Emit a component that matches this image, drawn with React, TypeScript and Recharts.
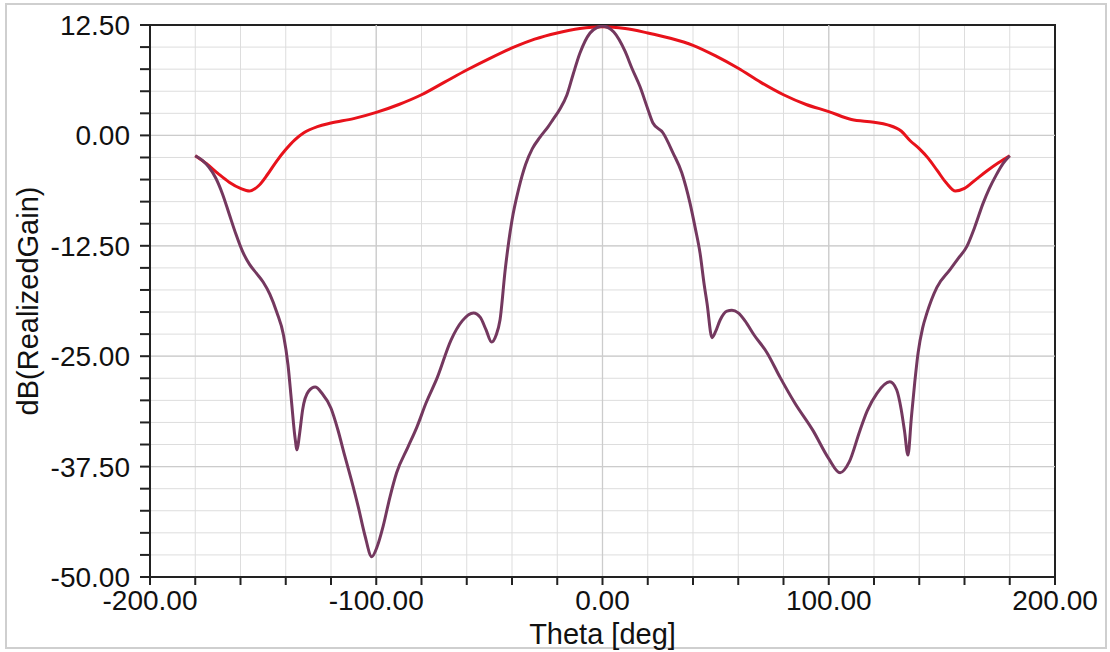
import {
  CartesianGrid,
  Line,
  LineChart,
  ReferenceArea,
  ReferenceLine,
  XAxis,
  YAxis,
} from "recharts";

// theta [deg] and dB(RealizedGain)
const redTheta = [
  -180, -175, -170, -165, -160, -156, -152, -148, -144, -140, -136, -132, -126,
  -120, -110, -100, -90, -80, -70, -60, -50, -40, -30, -20, -10, 0, 10, 20, 30,
  40, 50, 60, 70, 80, 90, 100, 110, 120, 126, 132, 136, 140, 144, 148, 152, 156,
  160, 165, 170, 175, 180,
];
const redGain = [
  -2.3, -3.2, -4.3, -5.3, -6.0, -6.3, -5.7, -4.4, -2.9, -1.6, -0.5, 0.3, 1.0,
  1.4, 1.9, 2.6, 3.5, 4.6, 6.0, 7.4, 8.7, 9.9, 10.9, 11.6, 12.1, 12.3, 12.1,
  11.6, 11.0, 10.2, 9.0, 7.6, 6.0, 4.6, 3.5, 2.7, 1.8, 1.5, 1.2, 0.5, -0.6,
  -1.5, -2.6, -4.0, -5.4, -6.3, -6.0, -5.0, -4.0, -3.1, -2.3,
];

const purpleTheta = [
  -180, -177, -174, -171, -168, -165, -162, -159, -156, -153, -150, -147, -144,
  -141, -139, -137.5, -136, -135, -134, -132.5, -130, -127, -124, -120, -117,
  -114, -111, -108, -105, -102, -99.5, -97, -94, -91, -86, -82, -78, -73, -67,
  -62, -57, -54, -51.5, -49, -47, -45.3, -43, -40, -37, -34, -31, -27.6, -24,
  -22, -19, -15.7, -13, -10, -5.5, -2.5, 0, 2.5, 5, 10, 13, 16.6, 20, 22.3,
  26.7, 31.2, 35, 38.7, 41, 43.1, 45, 46.2, 48.4, 50, 52, 55, 57.2, 60, 63, 67,
  72.7, 78.5, 85, 93, 100, 105, 109, 113.8, 117, 121.3, 127, 130, 132, 133.5,
  135, 136.5, 138, 139.5, 141.5, 143.4, 147.8, 153.6, 157, 161, 164.5, 168.2,
  171, 174, 177, 180,
];
const purpleGain = [
  -2.3, -2.8, -3.6, -4.8, -6.6, -8.9, -11.2, -13.2, -14.6, -15.6, -16.6, -18.0,
  -20.0, -22.6, -26.0, -30.0, -34.0, -35.6, -34.0, -31.0, -29.0, -28.5, -29.2,
  -30.9, -33.3, -36.2, -39.0, -42.0, -45.3, -47.7, -46.5, -44.3, -41.0, -38.2,
  -35.3, -33.0, -30.3, -27.4, -23.2, -21.0, -20.1, -20.6, -22.0, -23.4, -22.6,
  -20.9, -15.2, -9.6, -6.0, -3.3, -1.5, -0.2, 1.0, 1.75, 2.9, 4.6, 6.9, 9.3,
  11.6, 12.2, 12.4, 12.2, 11.7, 9.5, 7.6, 5.5, 3.0, 1.4, 0.3, -2.0, -4.2, -7.7,
  -10.5, -13.3, -17.0, -19.0, -22.9, -22.2, -20.9, -19.9, -19.8, -20.1, -21.0,
  -22.6, -24.6, -27.4, -30.3, -33.4, -36.6, -38.2, -37.0, -33.4, -31.2, -29.2,
  -27.9, -28.8, -31.0, -33.5, -36.2, -32.0, -28.0, -24.6, -21.8, -20.1, -17.2,
  -15.2, -14.0, -12.6, -10.4, -7.7, -6.0, -4.5, -3.2, -2.3,
];

const xTicks = [-200, -180, -160, -140, -120, -100, -80, -60, -40, -20, 0, 20, 40, 60, 80, 100, 120, 140, 160, 180, 200];
const yTicks = [
  -50, -47.5, -45, -42.5, -40, -37.5, -35, -32.5, -30, -27.5, -25, -22.5, -20,
  -17.5, -15, -12.5, -10, -7.5, -5, -2.5, 0, 2.5, 5, 7.5, 10, 12.5,
];
const xMajor = [-100, 0, 100];
const yMajor = [-37.5, -25, -12.5, 0];

const redData = redTheta.map((t, i) => ({ theta: t, gain: redGain[i] }));
const purpleData = purpleTheta.map((t, i) => ({ theta: t, gain: purpleGain[i] }));

const FONT = "'Liberation Sans', Arial, sans-serif";
const tickStyle = { fill: "#111", fontSize: 28, fontFamily: FONT };

export default function App() {
  return (
    <div
      style={{
        position: "fixed",
        left: 0,
        top: 0,
        width: 1110,
        height: 652,
        background: "#fff",
      }}
    >
      <div
        style={{
          position: "absolute",
          left: 5,
          top: 3,
          width: 1102,
          height: 646,
          border: "2px solid #cfcfcf",
          boxSizing: "border-box",
        }}
      />
      <LineChart
        width={1110}
        height={652}
        margin={{ top: 25, right: 55, bottom: 0, left: 0 }}
        style={{ position: "absolute", left: 0, top: 0 }}
      >
        <CartesianGrid stroke="#dddddd" strokeWidth={1} />
        {xMajor.map((x) => (
          <ReferenceLine key={"x" + x} x={x} stroke="#cccccc" strokeWidth={1.3} />
        ))}
        {yMajor.map((y) => (
          <ReferenceLine key={"y" + y} y={y} stroke="#cccccc" strokeWidth={1.3} />
        ))}
        <XAxis
          type="number"
          dataKey="theta"
          domain={[-200, 200]}
          ticks={xTicks}
          interval={0}
          allowDataOverflow
          height={75}
          tickSize={8}
          tickMargin={5}
          tickFormatter={(v: number) => (Math.abs(v) % 100 === 0 ? v.toFixed(2) : "")}
          tick={tickStyle}
          stroke="#222"
          strokeWidth={2}
          label={{
            value: "Theta [deg]",
            position: "insideBottom",
            offset: 8,
            fill: "#111",
            fontSize: 29,
            fontFamily: FONT,
          }}
        />
        <YAxis
          type="number"
          domain={[-50, 12.5]}
          ticks={yTicks}
          interval={0}
          allowDataOverflow
          width={150}
          tickSize={10}
          tickMargin={10}
          tickFormatter={(v: number) => (Math.abs(v) % 12.5 === 0 ? v.toFixed(2) : "")}
          tick={tickStyle}
          stroke="#222"
          strokeWidth={2}
          label={{
            value: "dB(RealizedGain)",
            angle: -90,
            position: "insideLeft",
            offset: 28,
            style: { textAnchor: "middle" },
            fill: "#111",
            fontSize: 29,
            fontFamily: FONT,
          }}
        />
        <ReferenceArea
          x1={-200}
          x2={200}
          y1={-50}
          y2={12.5}
          fill="none"
          stroke="#222"
          strokeWidth={2}
          fillOpacity={0}
        />
        <Line
          data={redData}
          dataKey="gain"
          type="monotone"
          stroke="#E8121B"
          strokeWidth={3}
          dot={false}
          isAnimationActive={false}
        />
        <Line
          data={purpleData}
          dataKey="gain"
          type="monotone"
          stroke="#74385F"
          strokeWidth={3}
          dot={false}
          isAnimationActive={false}
        />
      </LineChart>
    </div>
  );
}
